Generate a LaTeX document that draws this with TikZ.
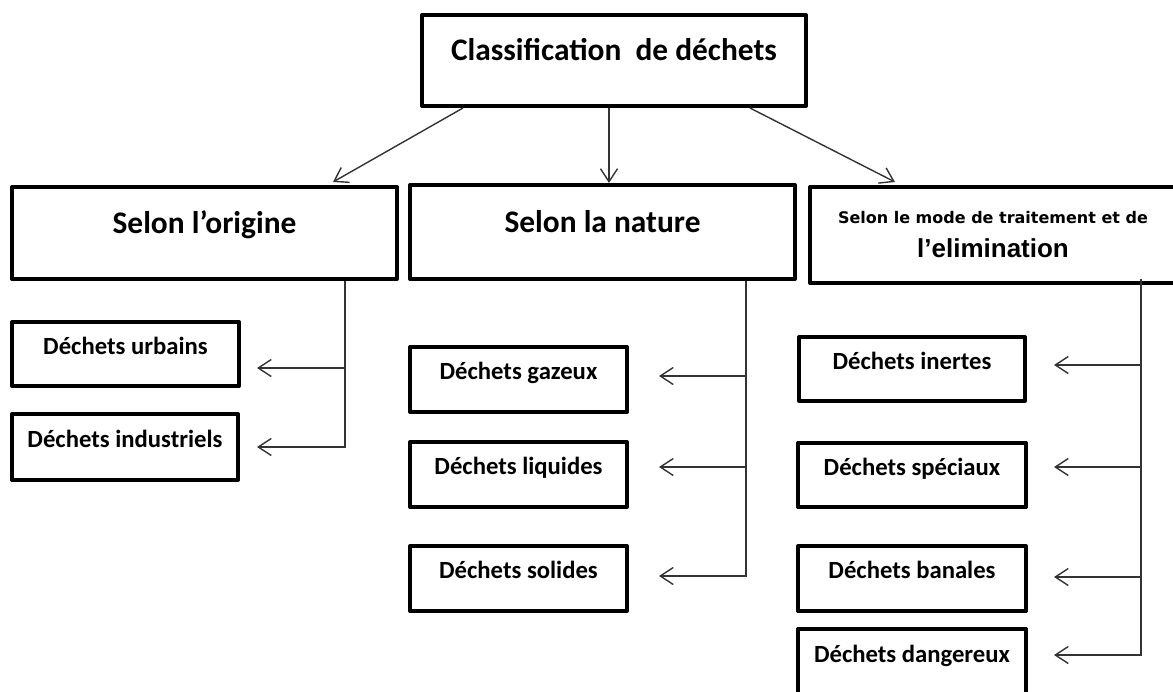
\documentclass[tikz,border=0pt]{standalone}
\usepackage{fontspec}
\setmainfont{Carlito}
\newfontfamily\dejab{DejaVu Sans}
\newfontfamily\libsans{Liberation Sans}
\usepackage{tikz}
\usetikzlibrary{arrows.meta}
\tikzset{>={Straight Barb[length=13pt,width=17pt]},
  box/.style={draw,line width=4pt,line join=round,inner sep=0pt,text height=9pt,text depth=9pt,font=\fontsize{24.7}{30}\selectfont\bfseries},
  bigbox/.style={box,font=\fontsize{31.4}{38}\selectfont\bfseries},
  arr/.style={->,line width=1.4pt,black!80}}

\begin{document}
\begin{tikzpicture}[x=1pt,y=-1pt]
\useasboundingbox (0,0) rectangle (1173,691);
\node[bigbox,minimum width=384,minimum height=91] (top) at (614,60.5) {Classification\ \ de déchets};
\node[bigbox,minimum width=385,minimum height=92] (orig) at (204.5,233) {Selon l’origine};
\node[bigbox,minimum width=385,minimum height=94] (nat) at (602.5,232) {Selon la nature};
\node[draw,line width=4pt,line join=round,inner sep=0pt,minimum width=366,minimum height=96,align=center,font=\libsans\fontsize{26}{34}\selectfont\bfseries] (mode) at (993,235)
  {{\dejab\fontsize{16}{19}\selectfont\bfseries Selon le mode de traitement et de}\\l’elimination};
\node[box,minimum width=227,minimum height=64] (urb) at (125.5,354) {Déchets urbains};
\node[box,minimum width=226,minimum height=66] (ind) at (125,447) {Déchets industriels};
\node[box,minimum width=217,minimum height=65] (gaz) at (518.5,379.5) {Déchets gazeux};
\node[box,minimum width=217,minimum height=65] (liq) at (518.5,474.5) {Déchets liquides};
\node[box,minimum width=217,minimum height=65] (sol) at (518.5,578.5) {Déchets solides};
\node[box,minimum width=226,minimum height=64] (ine) at (912,369) {Déchets inertes};
\node[box,minimum width=228,minimum height=64] (spe) at (912,475) {Déchets spéciaux};
\node[box,minimum width=228,minimum height=65] (ban) at (912,578.5) {Déchets banales};
\node[box,minimum width=228,minimum height=66] (dan) at (912,662) {Déchets dangereux};
\draw[arr] ([xshift=43]top.south west)--([xshift=323,yshift=3]orig.north west);
\draw[arr] ([xshift=-5]top.south)--([xshift=-5]top.south |- nat.north);
\draw[arr] ([xshift=-58]top.south east)--([xshift=87,yshift=3]mode.north west);
\coordinate (os) at ([xshift=-54]orig.south east);
\draw[arr] (os) |- ([xshift=16,yshift=-14]urb.east);
\draw[arr] (os) |- ([xshift=17]ind.east);
\coordinate (ns) at ([xshift=-51]nat.south east);
\draw[arr] (ns) |- ([xshift=30,yshift=3.5]gaz.east);
\draw[arr] (ns) |- ([xshift=30,yshift=7.5]liq.east);
\draw[arr] (ns) |- ([xshift=30,yshift=2.5]sol.east);
\coordinate (ms) at ([xshift=-37,yshift=6]mode.south east);
\draw[arr] (ms) |- ([xshift=27,yshift=4]ine.east);
\draw[arr] (ms) |- ([xshift=26,yshift=8]spe.east);
\draw[arr] (ms) |- ([xshift=26,yshift=1.5]ban.east);
\draw[arr] (ms) |- ([xshift=26,yshift=7]dan.east);
\end{tikzpicture}
\end{document}
